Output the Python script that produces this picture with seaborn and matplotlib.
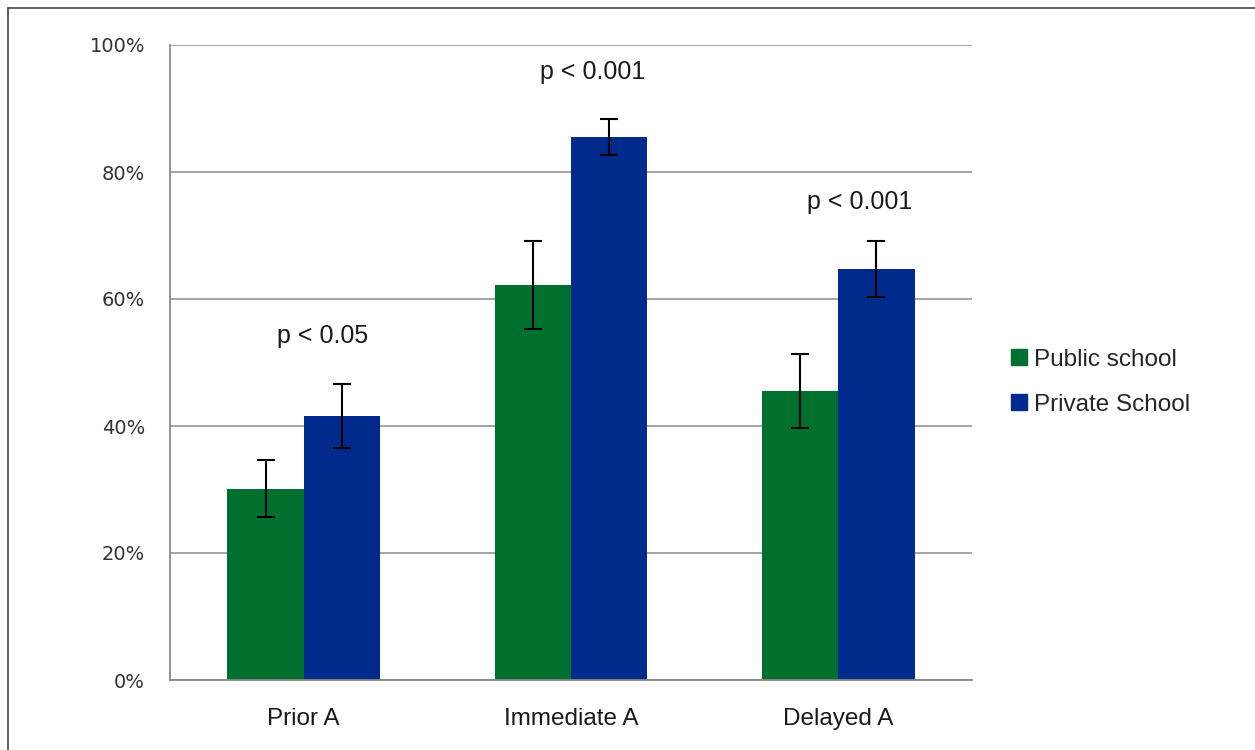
import matplotlib
matplotlib.use("Agg")
import matplotlib.pyplot as plt
import matplotlib.lines as mlines
import seaborn as sns
import pandas as pd
import numpy as np
from matplotlib.ticker import PercentFormatter, FixedLocator

categories = ["Prior A", "Immediate A", "Delayed A"]
groups = ["Public school", "Private School"]
public_vals = [30.1, 62.2, 45.5]
private_vals = [41.6, 85.5, 64.7]
public_err = [4.5, 6.9, 5.8]
private_err = [5.0, 2.9, 4.4]
p_labels = ["p < 0.05", "p < 0.001", "p < 0.001"]
y_ticks = [0, 20, 40, 60, 80, 100]

colors = {"Public school": "#00702F", "Private School": "#002A8C"}

df = pd.DataFrame({
    "category": categories * 2,
    "group": [groups[0]] * 3 + [groups[1]] * 3,
    "value": public_vals + private_vals,
    "err": public_err + private_err,
})

sns.set_theme(style="white")
plt.rcParams["font.family"] = ["Liberation Sans", "DejaVu Sans"]

fig = plt.figure(figsize=(12.55, 7.5), dpi=100)
ax = fig.add_axes([170 / 1255, 70 / 750, 802 / 1255, 635 / 750])

sns.barplot(data=df, x="category", y="value", hue="group", order=categories,
            hue_order=groups, palette=colors, width=0.57, saturation=1,
            errorbar=None, linewidth=0, ax=ax, legend=True)

# error bars at bar centres
errs = {(g, c): e for g, c, e in zip(df["group"], df["category"], df["err"])}
for container, g in zip(ax.containers, groups):
    for bar, c in zip(container, categories):
        xc = bar.get_x() + bar.get_width() / 2
        ax.errorbar(xc, bar.get_height(), yerr=errs[(g, c)], fmt="none",
                    ecolor="black", elinewidth=1.5, capsize=6.5, capthick=1.5,
                    zorder=5)

ax.set_xlim(-0.5, 2.5)
ax.set_ylim(0, 100)
ax.yaxis.set_major_locator(FixedLocator(y_ticks))
ax.yaxis.set_major_formatter(PercentFormatter(decimals=0))
ax.grid(axis="y", color="#8a8a8a", linewidth=1.1)
ax.set_axisbelow(True)
ax.set_xlabel("")
ax.set_ylabel("")

for s in ["top", "right"]:
    ax.spines[s].set_visible(False)
for s in ["left", "bottom"]:
    ax.spines[s].set_color("#8a8a8a")
    ax.spines[s].set_linewidth(1.3)

ax.set_xticks(range(len(categories)))
ax.set_xticklabels(categories, fontsize=17.5, color="#1a1a1a")
ax.set_xticks([-0.5, 0.5, 1.5, 2.5], minor=True)
ax.tick_params(axis="x", which="major", length=0, pad=20)
ax.tick_params(axis="x", which="minor", length=6, width=1.3, color="#8a8a8a",
               direction="out")
ax.tick_params(axis="y", which="major", length=6, width=1.3, color="#8a8a8a",
               direction="out", labelsize=14, labelcolor="#333333", pad=12)
for lab in ax.get_yticklabels():
    lab.set_family(["DejaVu Sans"])

# p-value annotations
p_pos = [(0.07, 54.2), (1.08, 95.7), (2.08, 75.3)]
for (px, py), txt in zip(p_pos, p_labels):
    ax.text(px, py, txt, ha="center", va="center", fontsize=18, color="#1a1a1a")

# legend
handles = [mlines.Line2D([], [], marker="s", linestyle="none", markersize=12,
                         markerfacecolor=colors[g], markeredgecolor=colors[g])
           for g in groups]
ax.legend(handles, groups, loc="center left", bbox_to_anchor=(1.0, 0.469),
          frameon=False, fontsize=17.5, handletextpad=-0.1, labelspacing=0.95,
          handlelength=1.4, borderaxespad=0.85)

# figure border (top and left only)
fig.add_artist(mlines.Line2D([8 / 1255, 1], [1 - 8 / 750, 1 - 8 / 750],
                             transform=fig.transFigure, color="#444444", lw=1.2))
fig.add_artist(mlines.Line2D([8 / 1255, 8 / 1255], [0, 1 - 8 / 750],
                             transform=fig.transFigure, color="#444444", lw=1.2))

fig.savefig("out.png", dpi=100)
